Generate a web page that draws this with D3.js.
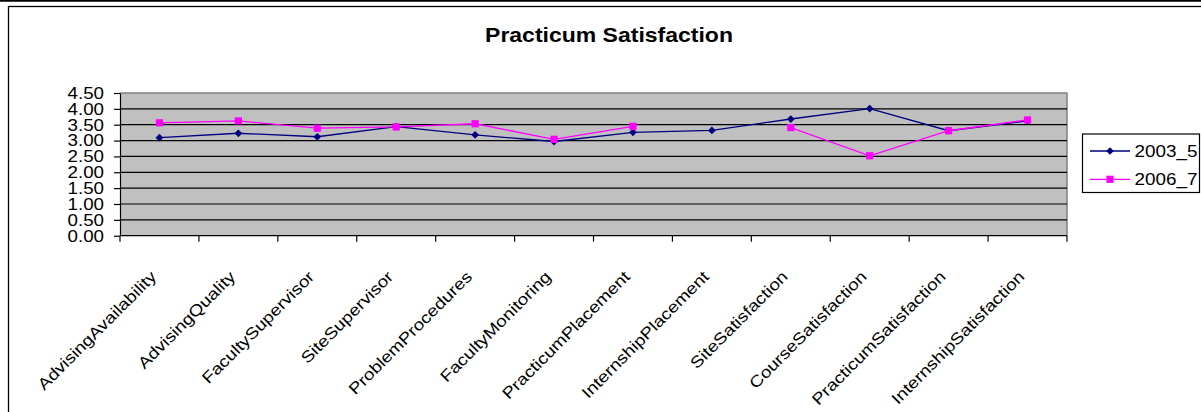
<!DOCTYPE html>
<html>
<head>
<meta charset="utf-8">
<script src="https://cdn.jsdelivr.net/npm/d3@7"></script>
<style>
  html, body { margin: 0; padding: 0; background: #fff; }
  svg { display: block; }
  text { font-family: "Liberation Sans", Arial, sans-serif; fill: #000; }
</style>
</head>
<body>
<svg id="chart" width="1201" height="412"></svg>
<script>
// Survey items, in the order they appear along the category axis
const categories = [
  "AdvisingAvailability", "AdvisingQuality", "FacultySupervisor", "SiteSupervisor",
  "ProblemProcedures", "FacultyMonitoring", "PracticumPlacement", "InternshipPlacement",
  "SiteSatisfaction", "CourseSatisfaction", "PracticumSatisfaction", "InternshipSatisfaction"
];

// Mean ratings per cohort (null = item not asked that cohort)
const values2003_5 = [3.09, 3.23, 3.12, 3.44, 3.18, 2.97, 3.26, 3.32, 3.68, 4.01, 3.31, 3.62];
const values2006_7 = [3.56, 3.62, 3.39, 3.43, 3.53, 3.04, 3.45, null, 3.41, 2.52, 3.31, 3.65];

const seriesNames = ["2003_5", "2006_7"];
const yTicks = [0, 0.5, 1, 1.5, 2, 2.5, 3, 3.5, 4, 4.5];
const chartTitle = "Practicum Satisfaction";

const svg = d3.select("#chart");
const W = 1201, H = 412;
const plot = { left: 120, right: 1067, top: 93, bottom: 235.7 };
const stretch = 1.18; // widened glyph rendering

// chart frame
svg.append("line").attr("x1", 0).attr("x2", W).attr("y1", 0.8).attr("y2", 0.8)
  .attr("stroke", "#000").attr("stroke-width", 1.8);
svg.append("rect").attr("x", 8.5).attr("y", 6.5).attr("width", W + 20).attr("height", H + 20)
  .attr("fill", "#fff").attr("stroke", "#000").attr("stroke-width", 1.3);

const x = d3.scaleBand().domain(categories).range([plot.left, plot.right]).padding(0);
const y = d3.scaleLinear().domain([0, 4.5]).range([plot.bottom, plot.top]);
const cx = d => x(d) + x.bandwidth() / 2;

// plot area
svg.append("rect")
  .attr("x", plot.left).attr("y", plot.top)
  .attr("width", plot.right - plot.left).attr("height", plot.bottom - plot.top)
  .attr("fill", "#c0c0c0");
svg.append("path")
  .attr("d", `M${plot.left},${plot.top}H${plot.right}V${plot.bottom}`)
  .attr("fill", "none").attr("stroke", "#808080").attr("stroke-width", 1.5);

// horizontal gridlines
svg.append("g").selectAll("line")
  .data(yTicks.filter(t => t > 0 && t < 4.5))
  .join("line")
  .attr("x1", plot.left).attr("x2", plot.right)
  .attr("y1", d => y(d)).attr("y2", d => y(d))
  .attr("stroke", "#000").attr("stroke-width", 1.2);

// y axis
const yAxis = svg.append("g").attr("transform", `translate(${plot.left},0)`)
  .call(d3.axisLeft(y).tickValues(yTicks).tickSize(6).tickSizeOuter(0).tickFormat(d3.format(".2f")));
yAxis.select(".domain").attr("stroke", "#000").attr("stroke-width", 1.2);
yAxis.selectAll(".tick line").attr("stroke", "#000").attr("stroke-width", 1.2);
yAxis.selectAll(".tick text")
  .attr("x", null).attr("dy", null)
  .attr("font-size", 15)
  .attr("text-anchor", "end")
  .attr("transform", `translate(-16,5.4) scale(1.25,1.05)`);

// x axis: ticks on category boundaries
const xAxis = svg.append("g").attr("transform", `translate(0,${plot.bottom})`);
xAxis.append("line").attr("x1", plot.left).attr("x2", plot.right)
  .attr("stroke", "#000").attr("stroke-width", 1.2);
const bounds = categories.map(c => x(c)).concat([plot.right]);
xAxis.selectAll("line.tk").data(bounds).join("line").attr("class", "tk")
  .attr("x1", d => d).attr("x2", d => d).attr("y1", 0).attr("y2", 6)
  .attr("stroke", "#000").attr("stroke-width", 1.2);
xAxis.selectAll("text").data(categories).join("text")
  .attr("font-size", 16)
  .attr("text-anchor", "end")
  .attr("transform", d => `translate(${cx(d) - 2},42) rotate(-45) scale(${stretch},1)`)
  .text(d => d);

// series
const line = d3.line().defined(d => d.v != null).x(d => cx(d.c)).y(d => y(d.v));
const series = [
  { name: seriesNames[0], values: values2003_5, color: "#000080", marker: d3.symbolSquare, size: 30, rot: 45 },
  { name: seriesNames[1], values: values2006_7, color: "#ff00ff", marker: d3.symbolSquare, size: 52, rot: 0 }
];

series.forEach(s => {
  const pts = categories.map((c, i) => ({ c, v: s.values[i] }));
  svg.append("path").datum(pts)
    .attr("d", line).attr("fill", "none")
    .attr("stroke", s.color).attr("stroke-width", 1.3);
  svg.append("g").selectAll("path").data(pts.filter(p => p.v != null)).join("path")
    .attr("d", d3.symbol().type(s.marker).size(s.size))
    .attr("transform", d => `translate(${cx(d.c)},${y(d.v)}) rotate(${s.rot})`)
    .attr("fill", s.color);
});

// legend
const lg = svg.append("g");
lg.append("rect").attr("x", 1082.5).attr("y", 134).attr("width", 117).attr("height", 58.5)
  .attr("fill", "#fff").attr("stroke", "#000").attr("stroke-width", 1.2);
series.forEach((s, i) => {
  const ly = 151 + i * 28.3;
  lg.append("line").attr("x1", 1090).attr("x2", 1130).attr("y1", ly).attr("y2", ly)
    .attr("stroke", s.color).attr("stroke-width", 1.3);
  lg.append("path").attr("d", d3.symbol().type(s.marker).size(s.size))
    .attr("transform", `translate(1110,${ly}) rotate(${s.rot})`).attr("fill", s.color);
  lg.append("text").attr("font-size", 16)
    .attr("transform", `translate(1134.5,${ly + 5.6}) scale(${stretch},1)`)
    .text(s.name);
});

// title
svg.append("text")
  .attr("font-size", 19.5).attr("font-weight", "bold").attr("text-anchor", "middle")
  .attr("transform", `translate(609,42) scale(${stretch},1)`)
  .text(chartTitle);
</script>
</body>
</html>
